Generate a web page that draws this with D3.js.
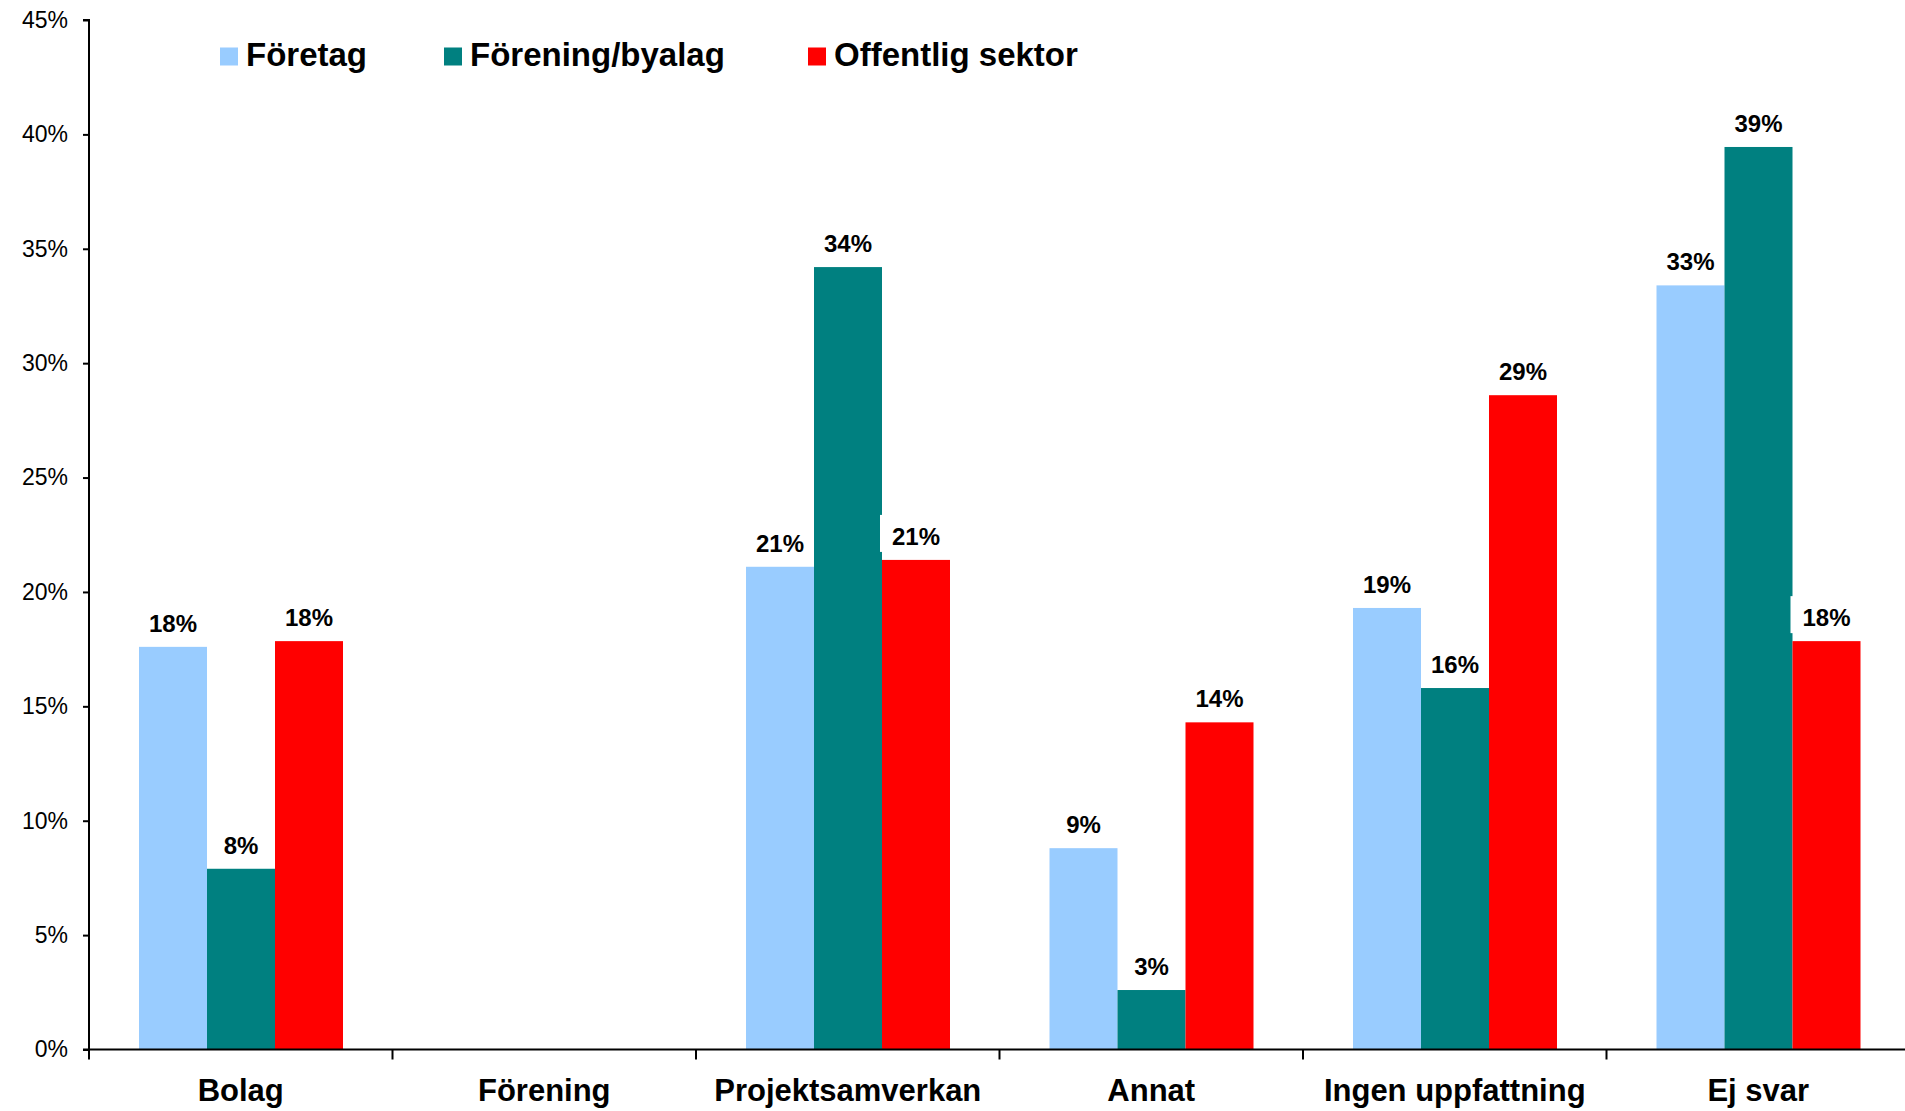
<!DOCTYPE html>
<html>
<head>
<meta charset="utf-8">
<script src="https://cdn.jsdelivr.net/npm/d3@7"></script>
<style>
  html, body { margin: 0; padding: 0; background: #fff; }
  svg { display: block; font-family: "Liberation Sans", Arial, sans-serif; }
</style>
</head>
<body>
<svg id="chart" width="1905" height="1111"></svg>
<script>
// ---- data ----
const categories = ["Bolag", "Förening", "Projektsamverkan", "Annat", "Ingen uppfattning", "Ej svar"];
const seriesNames = ["Företag", "Förening/byalag", "Offentlig sektor"];
const foretag   = [17.6, null, 21.1, 8.8, 19.3, 33.4];
const forening  = [7.9, null, 34.2, 2.6, 15.8, 39.45];
const offentlig = [17.85, null, 21.4, 14.3, 28.6, 17.85];
const yTicks = [0, 5, 10, 15, 20, 25, 30, 35, 40, 45];
const colors = ["#99CCFF", "#008080", "#FF0000"];

const seriesValues = [foretag, forening, offentlig];

(function () {
  const svg = d3.select("#chart");
  const mLeft = 89, mBottom = 1049.5, mTop = 20;
  const bandW = 303.5;

  const x0 = d3.scaleBand().domain(categories)
    .range([mLeft, mLeft + bandW * categories.length]).paddingInner(0).paddingOuter(0);
  const x1 = d3.scaleBand().domain(seriesNames).range([50, 50 + 68 * 3]).padding(0);
  const y = d3.scaleLinear().domain([0, 45]).range([mBottom, mTop]);

  // bars
  const rows = [];
  categories.forEach((c, ci) => {
    seriesNames.forEach((s, si) => {
      const v = seriesValues[si][ci];
      if (v !== null) rows.push({cat: c, series: s, si, v});
    });
  });

  svg.append("g").selectAll("rect").data(rows).join("rect")
    .attr("x", d => x0(d.cat) + x1(d.series))
    .attr("y", d => y(d.v))
    .attr("width", x1.bandwidth())
    .attr("height", d => y(0) - y(d.v))
    .attr("fill", d => colors[d.si]);

  // y axis
  const yAxis = d3.axisLeft(y).tickValues(yTicks).tickSize(6).tickPadding(15)
    .tickFormat(d => d + "%");
  const gy = svg.append("g").attr("transform", `translate(${mLeft},0)`).call(yAxis);
  gy.select(".domain").attr("stroke", "#000").attr("stroke-width", 2)
    .attr("d", `M-6,${y(45)}H0V${mBottom}H-6`);
  gy.selectAll(".tick line").attr("stroke", "#000").attr("stroke-width", 2);
  gy.selectAll(".tick text").attr("font-size", 23).attr("fill", "#000")
    .attr("font-family", "'Liberation Sans', Arial, sans-serif");

  // x axis
  const xAxis = d3.axisBottom(x0).tickSize(0).tickPadding(0);
  const gx = svg.append("g").attr("transform", `translate(0,${mBottom})`).call(xAxis);
  gx.select(".domain").attr("stroke", "#000").attr("stroke-width", 2)
    .attr("d", `M${mLeft},0H1905`);
  gx.selectAll(".tick text").attr("font-size", 31).attr("font-weight", "bold")
    .attr("fill", "#000").attr("dy", null).attr("y", 51.5)
    .attr("font-family", "'Liberation Sans', Arial, sans-serif");
  // category boundary ticks
  const bounds = categories.map(c => x0(c));
  gx.append("g").selectAll("line").data(bounds).join("line")
    .attr("x1", d => d).attr("x2", d => d)
    .attr("y1", 0).attr("y2", 10)
    .attr("stroke", "#000").attr("stroke-width", 2);

  // data labels
  const fmt = v => Math.round(v) + "%";
  const lbl = svg.append("g").attr("font-size", 24).attr("font-weight", "bold")
    .attr("text-anchor", "middle").attr("fill", "#000");
  rows.forEach(d => {
    const cx = x0(d.cat) + x1(d.series) + x1.bandwidth() / 2;
    const ty = y(d.v);
    if (d.si === 2) {
      lbl.append("rect").attr("x", cx - 36).attr("y", ty - 45)
        .attr("width", 72).attr("height", 37).attr("fill", "#fff");
    }
    lbl.append("text").attr("x", cx).attr("y", ty - 15).text(fmt(d.v));
  });

  // legend
  const legendX = [220, 444, 808];
  const lg = svg.append("g");
  seriesNames.forEach((s, i) => {
    const g = lg.append("g").attr("transform", `translate(${legendX[i]},0)`);
    g.append("rect").attr("x", 0).attr("y", 47.5).attr("width", 18).attr("height", 18)
      .attr("fill", colors[i]);
    g.append("text").attr("x", 26).attr("y", 66).attr("font-size", 33)
      .attr("font-weight", "bold").attr("fill", "#000").text(s);
  });
})();
</script>
</body>
</html>
